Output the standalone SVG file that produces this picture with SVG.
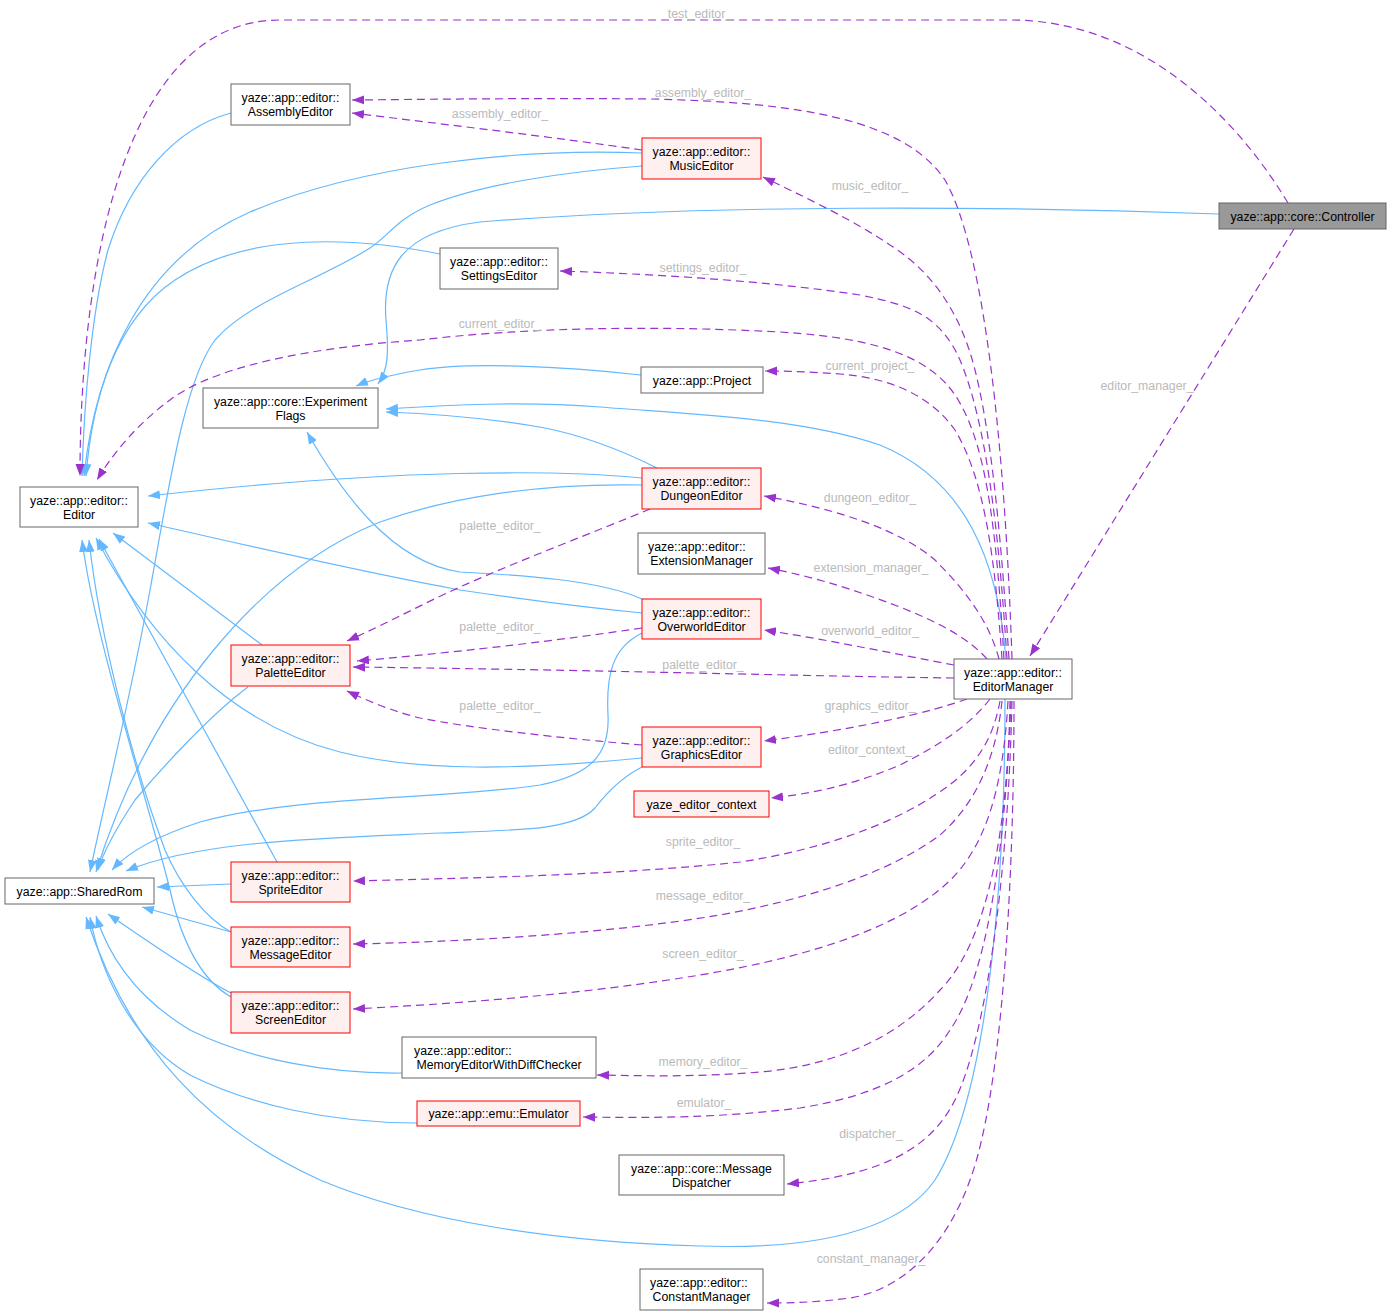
<svg xmlns="http://www.w3.org/2000/svg" width="1391" height="1315" viewBox="0 0 1391 1315">
<style>
.w{fill:#fff;stroke:#666;stroke-width:1}
.r{fill:#FFF0F0;stroke:#FF0000;stroke-width:1}
.g{fill:#999;stroke:#666;stroke-width:1}
.t{font-family:'Liberation Sans',Arial,Helvetica,sans-serif;font-size:12.3px;fill:#000;text-anchor:middle}
.s{text-anchor:start}
.b{fill:none;stroke:#63B8FF;stroke-width:1.2;marker-end:url(#ab)}
.p{fill:none;stroke:#9A32CD;stroke-width:1.2;stroke-dasharray:8,5;marker-end:url(#ap)}
.l{font-family:'Liberation Sans',Arial,Helvetica,sans-serif;font-size:12.3px;fill:#BABABA;text-anchor:middle}
</style>
<defs>
<marker id="ab" markerUnits="userSpaceOnUse" markerWidth="14" markerHeight="12" refX="12" refY="5" orient="auto"><path d="M0,0.5 L12,5 L0,9.5 z" fill="#63B8FF" stroke="none"/></marker>
<marker id="ap" markerUnits="userSpaceOnUse" markerWidth="14" markerHeight="12" refX="12" refY="5" orient="auto"><path d="M0,0.5 L12,5 L0,9.5 z" fill="#9A32CD" stroke="none"/></marker>
</defs>
<rect width="1391" height="1315" fill="#fff"/>
<g id="connectors">
<path class="b" d="M231,113 C175,128 130,180 108,250 C92,310 84,400 82,476"/>
<path class="b" d="M642,153 C520,148 360,165 250,212 C140,260 95,370 84,476"/>
<path class="b" d="M440,254 C360,238 250,230 175,280 C115,320 92,400 86,476"/>
<path class="b" d="M1219,214 C1000,206 700,204 480,222 C400,232 382,270 386,320 C389,355 388,370 378,384"/>
<path class="b" d="M641,375 C560,366 470,362 420,370 C390,375 370,380 356,386"/>
<path class="b" d="M1006,659 C998,560 965,480 880,445 C800,418 700,415 600,407 C520,401 450,405 386,409"/>
<path class="b" d="M657,468 C625,452 590,437 545,428 C490,418 440,414 386,412"/>
<path class="b" d="M642,599 C600,580 520,575 460,572 C390,562 340,490 307,432"/>
<path class="b" d="M642,478 C560,470 400,468 148,496"/>
<path class="b" d="M642,613 C560,605 500,596 460,590 C360,572 250,546 148,523"/>
<path class="b" d="M262,645 L113,533"/>
<path class="b" d="M642,758 C520,770 420,772 340,752 C230,724 150,640 96,538"/>
<path class="b" d="M277,862 L99,539"/>
<path class="b" d="M231,932 C205,918 180,885 165,850 C135,770 100,640 89,540"/>
<path class="b" d="M231,997 C198,978 180,935 170,890 C145,790 95,640 82,540"/>
<path class="b" d="M642,166 C560,172 480,185 430,205 C395,220 390,235 370,248 C320,280 250,300 215,340 C185,380 170,480 150,590 C130,700 105,800 90,872"/>
<path class="b" d="M642,485 C540,483 450,497 380,522 C260,570 150,700 96,872"/>
<path class="b" d="M642,633 C612,648 606,675 608,715 C610,755 590,775 540,785 C440,800 300,795 200,822 C160,835 130,850 112,870"/>
<path class="b" d="M248,687 C210,715 160,770 135,800 C115,830 104,850 98,870"/>
<path class="b" d="M642,767 C620,778 605,795 595,808 C575,830 520,830 440,833 C330,838 200,840 126,871"/>
<path class="b" d="M231,884 L157,887"/>
<path class="b" d="M231,932 L142,907"/>
<path class="b" d="M231,993 C200,977 160,950 108,914"/>
<path class="b" d="M402,1073 C330,1074 250,1060 190,1030 C140,1000 110,960 96,916"/>
<path class="b" d="M417,1123 C330,1123 250,1105 190,1075 C130,1040 100,970 90,917"/>
<path class="b" d="M1005,699 C1005,900 985,1100 935,1180 C900,1230 820,1250 700,1246 C560,1242 420,1222 320,1180 C210,1130 130,1050 86,917"/>
<path class="p" d="M1288,203 C1235,115 1140,20 1010,20 L280,20 C130,20 80,250 80,476"/>
<path class="p" d="M1294,229 L1030,656"/>
<path class="p" d="M1012,659 C1005,450 985,250 945,180 C905,120 800,102 650,99 C550,98 450,99 352,100"/>
<path class="p" d="M642,150 C560,138 450,125 352,113"/>
<path class="p" d="M1009,659 C1000,520 990,430 975,370 C960,310 930,270 890,245 C850,218 800,195 763,177"/>
<path class="p" d="M1007,659 C998,520 985,420 960,360 C940,315 910,305 860,295 C760,280 650,274 560,271"/>
<path class="p" d="M1004,659 C996,520 985,440 955,395 C930,358 880,338 780,332 C650,325 520,328 420,340 C330,346 220,362 170,400 C140,422 115,450 97,480"/>
<path class="p" d="M1002,659 C995,560 985,480 955,430 C930,395 890,378 840,374 C810,372 790,371 765,371"/>
<path class="p" d="M999,659 C990,625 970,595 935,560 C900,530 840,510 764,496"/>
<path class="p" d="M987,659 C970,640 945,625 900,607 C860,592 820,578 768,568"/>
<path class="p" d="M954,665 C900,655 830,640 764,630"/>
<path class="p" d="M954,678 C800,676 600,670 353,667"/>
<path class="p" d="M967,699 C930,712 870,727 764,741"/>
<path class="p" d="M990,699 C970,725 940,745 900,765 C860,782 820,793 771,798"/>
<path class="p" d="M1000,701 C993,740 975,770 935,795 C890,825 820,850 740,862 C620,875 470,878 353,881"/>
<path class="p" d="M1002,701 C997,750 980,800 940,835 C900,865 830,895 720,915 C600,935 450,942 353,944"/>
<path class="p" d="M1008,701 C1003,790 985,850 945,885 C900,925 820,955 700,975 C580,995 450,1004 353,1009"/>
<path class="p" d="M1010,701 C1008,820 990,940 940,990 C900,1035 840,1065 760,1072 C700,1077 650,1076 597,1075"/>
<path class="p" d="M1011,701 C1005,860 985,980 950,1030 C925,1070 880,1095 800,1108 C720,1118 650,1118 583,1117"/>
<path class="p" d="M1012,701 C1008,880 985,1040 955,1100 C930,1150 880,1175 787,1184"/>
<path class="p" d="M1014,701 C1014,900 1000,1100 970,1180 C945,1250 900,1290 850,1298 C820,1302 795,1303 767,1303"/>
<path class="p" d="M650,509 C600,530 520,560 460,587 C420,605 390,622 347,641"/>
<path class="p" d="M642,628 C560,640 480,650 357,661"/>
<path class="p" d="M642,745 C560,738 470,728 420,718 C395,712 370,702 347,691"/>
<text class="l" x="700" y="18">test_editor_</text>
<text class="l" x="703" y="97">assembly_editor_</text>
<text class="l" x="500" y="118">assembly_editor_</text>
<text class="l" x="870" y="190">music_editor_</text>
<text class="l" x="703" y="272">settings_editor_</text>
<text class="l" x="500" y="328">current_editor_</text>
<text class="l" x="870" y="370">current_project_</text>
<text class="l" x="1147" y="390">editor_manager_</text>
<text class="l" x="870" y="502">dungeon_editor_</text>
<text class="l" x="500" y="530">palette_editor_</text>
<text class="l" x="871" y="572">extension_manager_</text>
<text class="l" x="500" y="631">palette_editor_</text>
<text class="l" x="870" y="635">overworld_editor_</text>
<text class="l" x="703" y="669">palette_editor_</text>
<text class="l" x="500" y="710">palette_editor_</text>
<text class="l" x="870" y="710">graphics_editor_</text>
<text class="l" x="870" y="754">editor_context_</text>
<text class="l" x="703" y="846">sprite_editor_</text>
<text class="l" x="703" y="900">message_editor_</text>
<text class="l" x="703" y="958">screen_editor_</text>
<text class="l" x="703" y="1066">memory_editor_</text>
<text class="l" x="704" y="1107">emulator_</text>
<text class="l" x="871" y="1138">dispatcher_</text>
<text class="l" x="871" y="1263">constant_manager_</text>
</g>
<g id="controller"><rect class="g" x="1219" y="203" width="167" height="26"/><text class="t" x="1302.5" y="220.5">yaze::app::core::Controller</text></g>
<g id="editor_manager"><rect class="w" x="954" y="659" width="118" height="40"/><text class="t" x="1013" y="676.5">yaze::app::editor::</text><text class="t" x="1013" y="691">EditorManager</text></g>
<g id="assembly_editor"><rect class="w" x="231" y="84" width="119" height="41"/><text class="t" x="290.5" y="101.5">yaze::app::editor::</text><text class="t" x="290.5" y="116">AssemblyEditor</text></g>
<g id="music_editor"><rect class="r" x="642" y="138" width="119" height="41"/><text class="t" x="701.5" y="155.5">yaze::app::editor::</text><text class="t" x="701.5" y="170">MusicEditor</text></g>
<g id="settings_editor"><rect class="w" x="440" y="248" width="118" height="41"/><text class="t" x="499" y="265.5">yaze::app::editor::</text><text class="t" x="499" y="280">SettingsEditor</text></g>
<g id="project"><rect class="w" x="641" y="367" width="122" height="26"/><text class="t" x="702" y="384.5">yaze::app::Project</text></g>
<g id="experiment_flags"><rect class="w" x="203" y="388" width="175" height="40"/><text class="t" x="290.5" y="405.5">yaze::app::core::Experiment</text><text class="t" x="290.5" y="420">Flags</text></g>
<g id="editor"><rect class="w" x="20" y="487" width="118" height="40"/><text class="t" x="79" y="504.5">yaze::app::editor::</text><text class="t" x="79" y="519">Editor</text></g>
<g id="dungeon_editor"><rect class="r" x="642" y="468" width="119" height="41"/><text class="t" x="701.5" y="485.5">yaze::app::editor::</text><text class="t" x="701.5" y="500">DungeonEditor</text></g>
<g id="extension_manager"><rect class="w" x="638" y="533" width="127" height="41"/><text class="t s" x="648" y="550.5">yaze::app::editor::</text><text class="t" x="701.5" y="565">ExtensionManager</text></g>
<g id="overworld_editor"><rect class="r" x="642" y="599" width="119" height="40"/><text class="t" x="701.5" y="616.5">yaze::app::editor::</text><text class="t" x="701.5" y="631">OverworldEditor</text></g>
<g id="palette_editor"><rect class="r" x="231" y="645" width="119" height="41"/><text class="t" x="290.5" y="662.5">yaze::app::editor::</text><text class="t" x="290.5" y="677">PaletteEditor</text></g>
<g id="graphics_editor"><rect class="r" x="642" y="727" width="119" height="40"/><text class="t" x="701.5" y="744.5">yaze::app::editor::</text><text class="t" x="701.5" y="759">GraphicsEditor</text></g>
<g id="yaze_editor_context"><rect class="r" x="634" y="791" width="135" height="26"/><text class="t" x="701.5" y="808.5">yaze_editor_context</text></g>
<g id="shared_rom"><rect class="w" x="5" y="878" width="149" height="26"/><text class="t" x="79.5" y="895.5">yaze::app::SharedRom</text></g>
<g id="sprite_editor"><rect class="r" x="231" y="862" width="119" height="40"/><text class="t" x="290.5" y="879.5">yaze::app::editor::</text><text class="t" x="290.5" y="894">SpriteEditor</text></g>
<g id="message_editor"><rect class="r" x="231" y="927" width="119" height="40"/><text class="t" x="290.5" y="944.5">yaze::app::editor::</text><text class="t" x="290.5" y="959">MessageEditor</text></g>
<g id="screen_editor"><rect class="r" x="231" y="992" width="119" height="41"/><text class="t" x="290.5" y="1009.5">yaze::app::editor::</text><text class="t" x="290.5" y="1024">ScreenEditor</text></g>
<g id="memory_editor"><rect class="w" x="402" y="1037" width="194" height="41"/><text class="t s" x="414" y="1054.5">yaze::app::editor::</text><text class="t" x="499" y="1069">MemoryEditorWithDiffChecker</text></g>
<g id="emulator"><rect class="r" x="417" y="1101" width="163" height="25"/><text class="t" x="498.5" y="1118">yaze::app::emu::Emulator</text></g>
<g id="message_dispatcher"><rect class="w" x="619" y="1155" width="165" height="40"/><text class="t" x="701.5" y="1172.5">yaze::app::core::Message</text><text class="t" x="701.5" y="1187">Dispatcher</text></g>
<g id="constant_manager"><rect class="w" x="640" y="1269" width="123" height="41"/><text class="t s" x="650" y="1286.5">yaze::app::editor::</text><text class="t" x="701.5" y="1301">ConstantManager</text></g>
</svg>
